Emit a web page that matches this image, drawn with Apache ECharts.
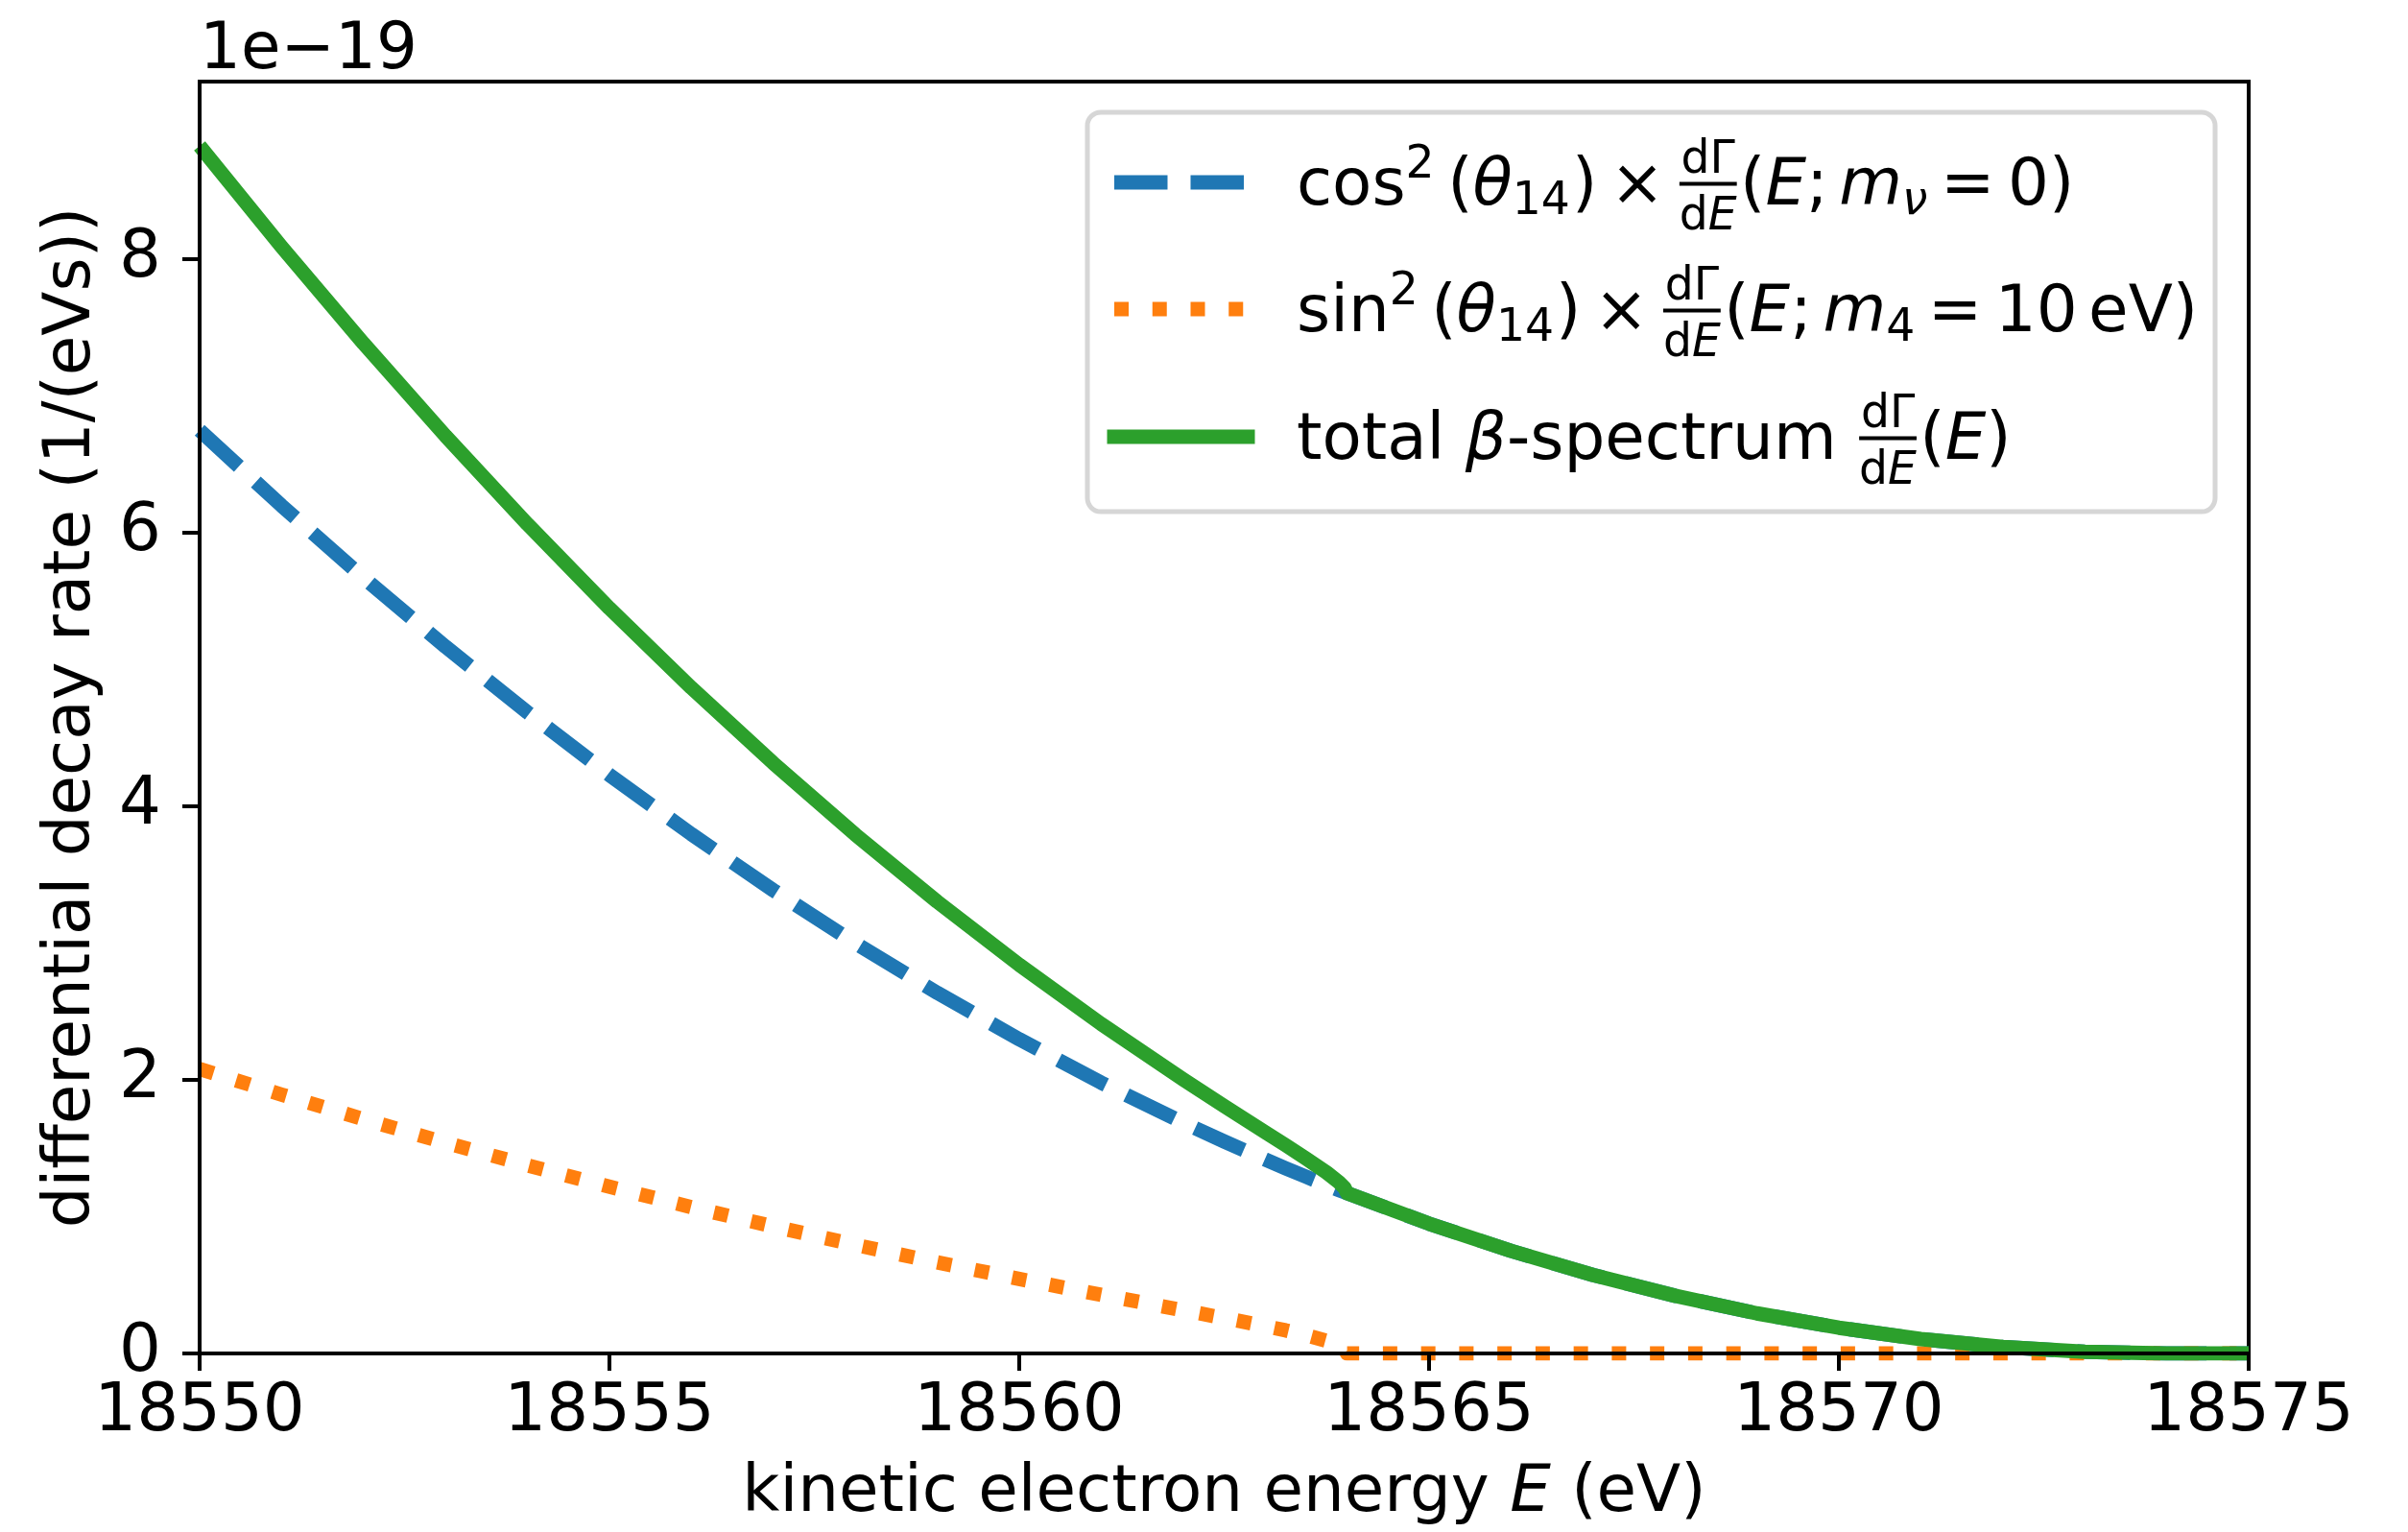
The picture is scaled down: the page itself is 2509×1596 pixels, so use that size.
<!DOCTYPE html>
<html><head><meta charset="utf-8">
<script src="https://cdn.jsdelivr.net/npm/echarts@6/dist/echarts.min.js"></script>
<style>html,body{margin:0;padding:0;background:#fff}#c{width:2509px;height:1596px}</style>
</head><body><div id="c"></div>
<script>
// ---- data (values in units of 1e-19 1/(eV s)) ----
const energy = [18550, 18551, 18552, 18553, 18554, 18555, 18556, 18557, 18558, 18559, 18560, 18561, 18562, 18562.5, 18563, 18563.25, 18563.5, 18563.75, 18563.9, 18563.97, 18564, 18565, 18566, 18567, 18568, 18569, 18570, 18571, 18572, 18573, 18574, 18575];
const cosPart = [6.750, 6.199, 5.672, 5.168, 4.688, 4.230, 3.797, 3.387, 3.000, 2.637, 2.297, 1.980, 1.688, 1.550, 1.418, 1.354, 1.292, 1.231, 1.195, 1.179, 1.172, 0.949, 0.750, 0.574, 0.422, 0.293, 0.188, 0.105, 0.047, 0.012, 0, 0];
const sinPart = [2.080, 1.893, 1.713, 1.541, 1.376, 1.219, 1.070, 0.929, 0.794, 0.666, 0.545, 0.429, 0.316, 0.259, 0.200, 0.169, 0.133, 0.092, 0.057, 0.031, 0, 0, 0, 0, 0, 0, 0, 0, 0, 0, 0, 0];
const totalRate = [8.830, 8.092, 7.385, 6.709, 6.064, 5.449, 4.867, 4.316, 3.794, 3.303, 2.842, 2.409, 2.004, 1.809, 1.618, 1.523, 1.425, 1.323, 1.252, 1.210, 1.172, 0.949, 0.750, 0.574, 0.422, 0.293, 0.188, 0.105, 0.047, 0.012, 0, 0];
const xTicks = [18550, 18555, 18560, 18565, 18570, 18575];
const yTicks = [0, 2, 4, 6, 8];
const offsetText = '1e\u221219';

const FF = "'DejaVu Sans'";
const FT = 69;     // tick label size
const F = 67.5;    // other text size
const mctx = document.createElement('canvas').getContext('2d');
function fontStr(size, italic) { return (italic ? 'italic ' : 'normal ') + 'normal ' + size + 'px ' + FF; }
function measure(t, size, italic) { mctx.font = fontStr(size, italic); mctx.textBaseline = 'alphabetic'; return mctx.measureText(t).width; }
function midOffset(size, italic) {
  mctx.font = fontStr(size, italic);
  mctx.textBaseline = 'alphabetic';
  const a = mctx.measureText('H').actualBoundingBoxAscent;
  mctx.textBaseline = 'middle';
  const b = mctx.measureText('H').actualBoundingBoxAscent;
  return a - b;
}
function textEl(t, x, baseline, size, italic) {
  return { type: 'text', z: 100, x: x, y: baseline - midOffset(size, italic),
    style: { text: t, font: fontStr(size, italic), fill: '#000', align: 'left', verticalAlign: 'middle' } };
}
function seqWidth(tks, size) { return tks.reduce((a, t) => a + measure(t.t, size * (t.s || 1), t.i), 0); }
function placeSeq(els, tks, x, B, size) {
  for (const t of tks) { const s = size * (t.s || 1); els.push(textEl(t.t, x, B - (t.dy || 0) * F, s, t.i)); x += measure(t.t, s, t.i); }
  return x;
}
function buildRow(els, x0, B, tokens) {
  let x = x0;
  for (const tk of tokens) {
    if (tk.sp !== undefined) { x += tk.sp * F; continue; }
    if (tk.frac) {
      const s = 0.7 * F;
      const wN = seqWidth(tk.frac[0], s), wD = seqWidth(tk.frac[1], s);
      const w = Math.max(wN, wD);
      x += 0.03 * F;
      placeSeq(els, tk.frac[0], x + (w - wN) / 2, B - 0.48 * F, s);
      placeSeq(els, tk.frac[1], x + (w - wD) / 2, B + 0.39 * F, s);
      const th = 4;
      els.push({ type: 'rect', z: 100, shape: { x: x, y: B - 0.31 * F - th / 2, width: w, height: th }, style: { fill: '#000' } });
      x += w + 0.05 * F;
      continue;
    }
    const s = (tk.s || 1) * F;
    els.push(textEl(tk.t, x, B - (tk.dy || 0) * F, s, tk.i));
    x += measure(tk.t, s, tk.i);
  }
  return x;
}
const fracTok = { frac: [[{ t: 'd\u0393' }], [{ t: 'd' }, { t: 'E', i: 1 }]] };
const row1 = [{ t: 'cos' }, { t: '2', s: 0.7, dy: 0.41 }, { sp: 0.2 }, { t: '(' }, { t: '\u03b8', i: 1 }, { t: '14', s: 0.7, dy: -0.15 }, { sp: 0.03 }, { t: ')' }, { sp: 0.2 }, { t: '\u00d7' }, { sp: 0.2 }, fracTok,
  { t: '(' }, { t: 'E', i: 1 }, { t: ';' }, { sp: 0.17 }, { t: 'm', i: 1 }, { t: '\u03bd', s: 0.7, i: 1, dy: -0.15 }, { sp: 0.2 }, { t: '=' }, { sp: 0.2 }, { t: '0' }, { t: ')' }];
const row2 = [{ t: 'sin' }, { t: '2', s: 0.7, dy: 0.41 }, { sp: 0.2 }, { t: '(' }, { t: '\u03b8', i: 1 }, { t: '14', s: 0.7, dy: -0.15 }, { sp: 0.03 }, { t: ')' }, { sp: 0.2 }, { t: '\u00d7' }, { sp: 0.2 }, fracTok,
  { t: '(' }, { t: 'E', i: 1 }, { t: ';' }, { sp: 0.17 }, { t: 'm', i: 1 }, { t: '4', s: 0.7, dy: -0.15 }, { sp: 0.2 }, { t: '=' }, { sp: 0.2 }, { t: '10' }, { sp: 0.17 }, { t: 'eV' }, { t: ')' }];
const row3 = [{ t: 'total ' }, { t: '\u03b2', i: 1 }, { t: '-spectrum ' }, fracTok, { t: '(' }, { t: 'E', i: 1 }, { t: ')' }];

const colors = ['#1f77b4', '#ff7f0e', '#2ca02c'];
const LW = 15;
const dashA = [3.7 * LW, 1.6 * LW];
const dotA = [1 * LW, 1.65 * LW];
const handleX1 = 1161, handleX2 = 1300;
const rowY = [190, 322, 455];
const textX = 1351;

const graphics = [];
graphics.push({ type: 'rect', z: 90, shape: { x: 1133, y: 117, width: 1175, height: 416, r: 14 }, style: { fill: 'rgba(255,255,255,0.8)', stroke: '#d6d6d6', lineWidth: 5 } });
const dashes = [dashA, dotA, null];
for (let k = 0; k < 3; k++) {
  graphics.push({ type: 'line', z: 100, shape: { x1: handleX1, y1: rowY[k], x2: handleX2, y2: rowY[k] },
    style: { stroke: colors[k], lineWidth: LW, lineDash: dashes[k], lineCap: k === 2 ? 'square' : 'butt' } });
}
buildRow(graphics, textX, rowY[0] + 22.5, row1);
buildRow(graphics, textX, rowY[1] + 22.5, row2);
buildRow(graphics, textX, rowY[2] + 22.5, row3);
graphics.push(textEl(offsetText, 208, 71, F, false));

function pairs(vals) { return energy.map((e, i) => [e, vals[i]]); }

const chart = echarts.init(document.getElementById('c'), null, { renderer: 'canvas', width: 2509, height: 1596 });
const tickFont = { fontSize: FT, fontFamily: FF, color: '#000' };
const axisFont = { fontSize: F, fontFamily: FF, color: '#000' };
chart.setOption({
  animation: false,
  backgroundColor: '#fff',
  grid: { left: 208, top: 85, width: 2135, height: 1325, show: true, borderColor: '#000', borderWidth: 4, backgroundColor: 'transparent' },
  xAxis: {
    type: 'value', min: 18550, max: 18575, interval: 5, z: 5,
    axisLine: { show: true, lineStyle: { color: '#000', width: 4 } },
    axisTick: { show: true, length: 18, lineStyle: { color: '#000', width: 4 }, customValues: xTicks },
    axisLabel: Object.assign({ margin: 28, customValues: xTicks, formatter: v => String(v) }, tickFont),
    splitLine: { show: false },
    name: '{a|kinetic electron energy }{b|E}{a| (eV)}', nameLocation: 'middle', nameGap: 112,
    nameTextStyle: { rich: { a: axisFont, b: Object.assign({ fontStyle: 'italic' }, axisFont) } }
  },
  yAxis: {
    type: 'value', min: 0, max: 9.3, interval: 2, z: 5,
    axisLine: { show: true, lineStyle: { color: '#000', width: 4 } },
    axisTick: { show: true, length: 18, lineStyle: { color: '#000', width: 4 }, customValues: yTicks },
    axisLabel: Object.assign({ margin: 40, customValues: yTicks, formatter: v => String(v) }, tickFont),
    splitLine: { show: false },
    name: 'differential decay rate (1/(eVs))', nameLocation: 'middle', nameGap: 99,
    nameTextStyle: axisFont
  },
  series: [
    { type: 'line', name: 'cos', data: pairs(cosPart), showSymbol: false, symbol: 'none', clip: true,
      lineStyle: { color: colors[0], width: LW, type: dashA, cap: 'butt', join: 'round' } },
    { type: 'line', name: 'sin', data: pairs(sinPart), showSymbol: false, symbol: 'none', clip: true,
      lineStyle: { color: colors[1], width: LW, type: dotA, cap: 'butt', join: 'round' } },
    { type: 'line', name: 'total', data: pairs(totalRate), showSymbol: false, symbol: 'none', clip: true,
      lineStyle: { color: colors[2], width: LW, type: 'solid', cap: 'butt', join: 'round' } }
  ],
  graphic: graphics
});
</script></body></html>
